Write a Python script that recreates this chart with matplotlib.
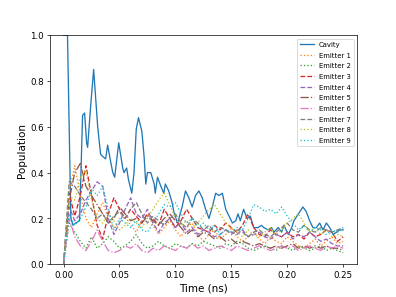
import numpy as np
import matplotlib
matplotlib.use("Agg")
import matplotlib.pyplot as plt

# Cavity (time in ns, population)
cavity_t = [0.0, 0.0035, 0.0065, 0.0085, 0.0108, 0.0143, 0.017, 0.0188, 0.0206, 0.0215,
            0.0242, 0.0269, 0.0305, 0.0331, 0.035, 0.0376, 0.0394, 0.042, 0.044, 0.0457,
            0.0493, 0.0529, 0.054, 0.0564, 0.058, 0.061, 0.063, 0.065, 0.067, 0.070,
            0.072, 0.0735, 0.075, 0.078, 0.081, 0.082, 0.084, 0.087, 0.0896, 0.091,
            0.094, 0.097, 0.099, 0.102, 0.106, 0.109, 0.112, 0.115, 0.118, 0.121,
            0.124, 0.127, 0.130, 0.133, 0.136, 0.139, 0.142, 0.145, 0.148, 0.151,
            0.154, 0.156, 0.158, 0.161, 0.164, 0.167, 0.170, 0.174, 0.177, 0.179,
            0.183, 0.186, 0.188, 0.192, 0.195, 0.197, 0.201, 0.204, 0.206, 0.210,
            0.214, 0.217, 0.220, 0.223, 0.226, 0.229, 0.232, 0.235, 0.238, 0.241,
            0.244, 0.247, 0.250]
cavity_v = [1.0, 1.0, 0.20, 0.17, 0.18, 0.19, 0.65, 0.66, 0.53, 0.51,
            0.69, 0.85, 0.60, 0.48, 0.47, 0.46, 0.52, 0.45, 0.40, 0.38,
            0.53, 0.42, 0.40, 0.42, 0.37, 0.31, 0.40, 0.59, 0.64, 0.58,
            0.47, 0.35, 0.40, 0.40, 0.35, 0.31, 0.38, 0.34, 0.31, 0.35,
            0.32, 0.27, 0.22, 0.18, 0.25, 0.32, 0.29, 0.25, 0.30, 0.32,
            0.29, 0.24, 0.20, 0.25, 0.31, 0.30, 0.31, 0.24, 0.21, 0.18,
            0.19, 0.22, 0.19, 0.24, 0.20, 0.21, 0.16, 0.16, 0.17, 0.16,
            0.15, 0.16, 0.14, 0.16, 0.14, 0.17, 0.13, 0.16, 0.19, 0.22,
            0.25, 0.23, 0.19, 0.16, 0.16, 0.18, 0.15, 0.18, 0.16, 0.13,
            0.14, 0.15, 0.15]

# Emitters on a common time grid (ns), step 0.005
emitter_t = [round(0.005 * i, 4) for i in range(51)]

emitter1 = [0, 0.32, 0.43, 0.30, 0.20, 0.16, 0.22, 0.27, 0.20, 0.16, 0.18, 0.21, 0.17, 0.14, 0.19, 0.22, 0.17,
            0.13, 0.16, 0.19, 0.15, 0.12, 0.16, 0.18, 0.13, 0.10, 0.13, 0.15, 0.11, 0.13, 0.16, 0.12, 0.10,
            0.12, 0.14, 0.11, 0.09, 0.12, 0.10, 0.09, 0.12, 0.10, 0.08, 0.07, 0.09, 0.11, 0.08, 0.10, 0.12,
            0.09, 0.10]
emitter2 = [0, 0.18, 0.14, 0.10, 0.07, 0.12, 0.07, 0.09, 0.12, 0.10, 0.07, 0.08, 0.10, 0.13, 0.09, 0.07, 0.08,
            0.10, 0.08, 0.07, 0.09, 0.08, 0.07, 0.09, 0.08, 0.10, 0.09, 0.08, 0.07, 0.09, 0.08, 0.10, 0.09,
            0.07, 0.06, 0.07, 0.08, 0.07, 0.06, 0.08, 0.07, 0.06, 0.08, 0.07, 0.06, 0.07, 0.08, 0.06, 0.07,
            0.06, 0.05]
emitter3 = [0, 0.31, 0.21, 0.30, 0.43, 0.30, 0.17, 0.11, 0.22, 0.29, 0.24, 0.20, 0.24, 0.21, 0.18, 0.22, 0.20,
            0.17, 0.24, 0.20, 0.16, 0.19, 0.24, 0.20, 0.16, 0.15, 0.14, 0.17, 0.15, 0.18, 0.16, 0.14, 0.17,
            0.22, 0.16, 0.13, 0.12, 0.15, 0.13, 0.12, 0.14, 0.12, 0.13, 0.11, 0.14, 0.12, 0.13, 0.15, 0.14,
            0.10, 0.12]
emitter4 = [0, 0.25, 0.19, 0.22, 0.28, 0.32, 0.36, 0.34, 0.20, 0.13, 0.18, 0.24, 0.29, 0.22, 0.20, 0.24, 0.18,
            0.14, 0.18, 0.20, 0.16, 0.18, 0.14, 0.16, 0.13, 0.15, 0.14, 0.12, 0.13, 0.15, 0.14, 0.13, 0.15,
            0.12, 0.13, 0.14, 0.12, 0.11, 0.13, 0.12, 0.14, 0.11, 0.13, 0.12, 0.14, 0.12, 0.10, 0.11, 0.09,
            0.08, 0.08]
emitter5 = [0, 0.28, 0.40, 0.44, 0.34, 0.30, 0.26, 0.22, 0.18, 0.20, 0.25, 0.22, 0.19, 0.20, 0.18, 0.21, 0.19,
            0.17, 0.20, 0.22, 0.19, 0.16, 0.13, 0.15, 0.12, 0.14, 0.13, 0.11, 0.12, 0.10, 0.11, 0.09, 0.10,
            0.09, 0.08, 0.09, 0.08, 0.07, 0.08, 0.07, 0.08, 0.09, 0.07, 0.08, 0.07, 0.08, 0.07, 0.08, 0.07,
            0.07, 0.06]
emitter6 = [0, 0.20, 0.12, 0.08, 0.06, 0.10, 0.15, 0.10, 0.06, 0.05, 0.06, 0.08, 0.07, 0.09, 0.06, 0.05, 0.07,
            0.06, 0.08, 0.07, 0.06, 0.08, 0.07, 0.09, 0.07, 0.08, 0.06, 0.07, 0.08, 0.07, 0.06, 0.08, 0.07,
            0.06, 0.07, 0.08, 0.07, 0.06, 0.07, 0.08, 0.07, 0.08, 0.06, 0.07, 0.08, 0.07, 0.06, 0.08, 0.07,
            0.08, 0.07]
emitter7 = [0, 0.36, 0.34, 0.30, 0.27, 0.24, 0.20, 0.22, 0.18, 0.21, 0.23, 0.20, 0.24, 0.27, 0.22, 0.18, 0.21,
            0.19, 0.17, 0.20, 0.22, 0.18, 0.16, 0.20, 0.18, 0.15, 0.17, 0.14, 0.16, 0.15, 0.13, 0.15, 0.14,
            0.12, 0.14, 0.15, 0.13, 0.12, 0.14, 0.16, 0.18, 0.15, 0.14, 0.17, 0.15, 0.14, 0.16, 0.15, 0.14,
            0.15, 0.16]
emitter8 = [0, 0.30, 0.28, 0.38, 0.41, 0.28, 0.20, 0.18, 0.22, 0.19, 0.15, 0.17, 0.20, 0.18, 0.16, 0.20, 0.24,
            0.28, 0.31, 0.26, 0.20, 0.17, 0.19, 0.16, 0.18, 0.21, 0.24, 0.26, 0.22, 0.18, 0.16, 0.14, 0.12,
            0.15, 0.13, 0.12, 0.14, 0.16, 0.13, 0.15, 0.18, 0.20, 0.22, 0.18, 0.14, 0.16, 0.13, 0.15, 0.12,
            0.13, 0.12]
emitter9 = [0, 0.22, 0.17, 0.20, 0.25, 0.33, 0.30, 0.34, 0.24, 0.15, 0.20, 0.18, 0.16, 0.19, 0.15, 0.14, 0.18,
            0.22, 0.26, 0.25, 0.27, 0.22, 0.18, 0.20, 0.16, 0.18, 0.15, 0.17, 0.13, 0.15, 0.14, 0.16, 0.15,
            0.20, 0.26, 0.25, 0.23, 0.24, 0.22, 0.25, 0.21, 0.18, 0.15, 0.17, 0.14, 0.16, 0.15, 0.13, 0.15,
            0.14, 0.16]

emitters = [emitter1, emitter2, emitter3, emitter4, emitter5, emitter6, emitter7, emitter8, emitter9]
labels = ["Emitter %d" % (i + 1) for i in range(9)]
styles = [":", ":", "--", "--", "-.", "-.", "--", ":", ":"]
colors = ["C1", "C2", "C3", "C4", "C5", "C6", "C7", "C8", "C9"]

fig, ax = plt.subplots(figsize=(6.4, 4.8), dpi=62)
ax.plot(cavity_t, cavity_v, color="C0", linestyle="-", label="Cavity")
for vals, lab, ls, c in zip(emitters, labels, styles, colors):
    ax.plot(emitter_t, vals, color=c, linestyle=ls, label=lab)

ax.set_ylim(0, 1)
ax.set_xlabel("Time (ns)", fontsize=12)
ax.set_ylabel("Population", fontsize=12)
ax.legend(loc="upper right", fontsize=8, labelspacing=0.68)
fig.savefig("out.png", dpi=62)
